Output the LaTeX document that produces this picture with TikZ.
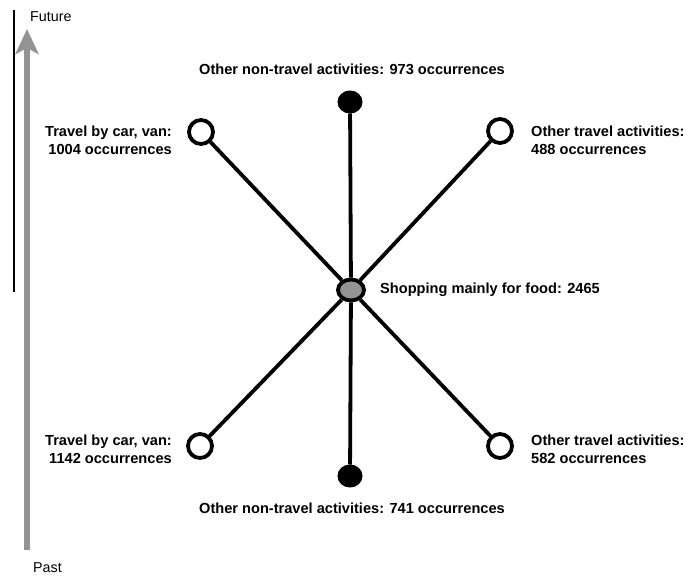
\documentclass[tikz,border=0pt]{standalone}
\usepackage{fontspec}
\setmainfont{Liberation Sans}
\usetikzlibrary{arrows.meta,shapes.geometric}
\begin{document}
\begin{tikzpicture}[x=1pt,y=-1pt,
  opennode/.style={circle,draw=black,line width=3.8pt,fill=white,minimum size=24pt,inner sep=0pt},
  fillnode/.style={ellipse,draw=black,line width=1pt,fill=black,minimum width=24pt,minimum height=22pt,inner sep=0pt},
  centernode/.style={ellipse,draw=black,line width=3.8pt,fill=gray!85,minimum width=26pt,minimum height=21pt,inner sep=0pt},
  conn/.style={line width=3.8pt,black},
  lab/.style={font=\bfseries\fontsize{14.6}{18}\selectfont,inner sep=0pt},
  axlab/.style={font=\fontsize{14.3}{16}\selectfont,inner sep=0pt}
]
\useasboundingbox (0,0) rectangle (691,577);
% axis
\coordinate (thintop) at (14,10);
\coordinate (thinbot) at (14,292);
\draw[line width=1.2pt] (thintop) -- (thinbot);
\coordinate (axbot) at (27,550);
\coordinate (axtop) at (27,29);
\draw[line width=5.5pt,gray!85,-{Stealth[length=25pt,width=23pt,inset=6pt]}] (axbot) -- (axtop);
\node[axlab,anchor=west] (future) at (30,17) {Future};
\node[axlab,anchor=west] (past) at (33,568) {Past};
% nodes
\node[centernode] (c) at (351,290) {};
\node[fillnode] (top) at (350,102) {};
\node[fillnode] (bot) at (350,476) {};
\node[opennode] (tl) at (201,132) {};
\node[opennode] (tr) at (500,131) {};
\node[opennode] (bl) at (200,446) {};
\node[opennode] (br) at (500,446) {};
% connectors
\draw[conn] (top) -- (c);
\draw[conn] (c) -- (bot);
\draw[conn] (tl) -- (c);
\draw[conn] (c) -- (br);
\draw[conn] (tr) -- (c);
\draw[conn] (c) -- (bl);
% labels
\node[lab] (ltop) at (352,69) {Other non-travel activities: 973 occurrences};
\node[lab] (lbot) at (352,508) {Other non-travel activities: 741 occurrences};
\node[lab,anchor=west] (lc) at (380,290) {Shopping mainly for food: 2465};
\node[lab,anchor=east,align=right] (ltl) at (172,140) {Travel by car, van:\\1004 occurrences};
\node[lab,anchor=east,align=right] (lbl) at (172,449) {Travel by car, van:\\1142 occurrences};
\node[lab,anchor=west,align=left] (ltr) at (531,140) {Other travel activities:\\488 occurrences};
\node[lab,anchor=west,align=left] (lbr) at (531,449) {Other travel activities:\\582 occurrences};
\end{tikzpicture}
\end{document}
